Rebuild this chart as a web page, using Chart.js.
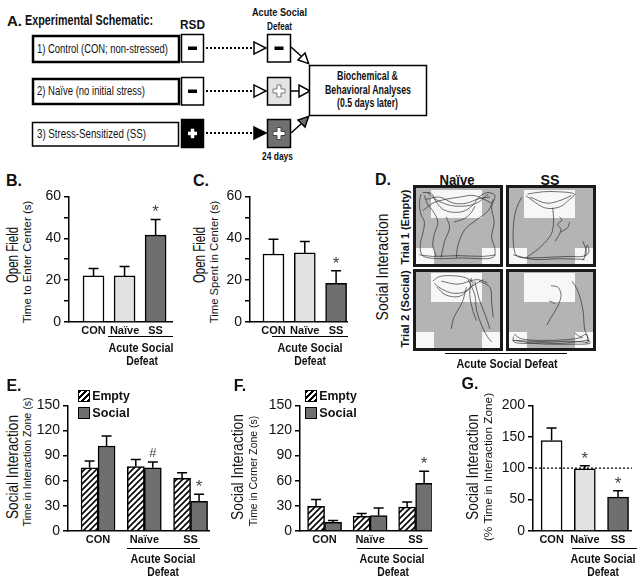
<!DOCTYPE html>
<html>
<head>
<meta charset="utf-8">
<script src="https://cdn.jsdelivr.net/npm/chart.js@4.4.1/dist/chart.umd.min.js"></script>
<style>
  body { margin: 0; background: #fff; }
  #fig { position: relative; width: 644px; height: 583px; overflow: hidden;
         font-family: "Liberation Sans", Arial, sans-serif; color: #111; }
  .t { position: absolute; white-space: nowrap; line-height: 1; transform: translate(-50%, -50%); }
  .r { transform: translate(-50%, -50%) rotate(-90deg); }
  .lbl { font-weight: bold; font-size: 16px; }
  .yt { font-size: 16px; }
  .ys { font-size: 11px; }
  .yb { font-size: 11px; font-weight: bold; }
  .xs { font-size: 12px; font-weight: bold; }
  .hl { position: absolute; height: 0; border-top: 1.5px solid #000; }
  canvas.ch { position: absolute; }
  .arena { position: absolute; width: 84px; height: 76px; border: 3px solid #1a1a1a; background: #b4b4b4; }
  .arena canvas { position: absolute; left: 0; top: 0; }
  .zone { position: absolute; background: #f7f7f7; }
  .zt1 { left: 18%; width: 61%; top: 3%; height: 37%; }
  .zt2 { left: 18%; width: 61%; top: 1%; height: 38%; }
  .zbl { left: 0; bottom: 0; width: 21%; height: 21%; }
  .zbr { right: 0; bottom: 0; width: 21%; height: 21%; }
  .sw { position: absolute; width: 10px; height: 10px; border: 1.5px solid #000; }
  .hatch { background: repeating-linear-gradient(-45deg, #000 0 1.6px, #fff 1.6px 4.2px); }
</style>
</head>
<body>
<div id="fig">

  <!-- A. Schema -->
  <svg width="644" height="170" style="position:absolute;left:0;top:0"
       font-family="Liberation Sans, Arial, sans-serif" fill="#111">
    <text x="7" y="26" font-weight="bold" font-size="15">A.</text>
    <text x="25" y="25" font-size="14" font-weight="bold" textLength="128" lengthAdjust="spacingAndGlyphs">Experimental Schematic:</text>
    <text x="180" y="29" font-size="13" font-weight="bold" textLength="25" lengthAdjust="spacingAndGlyphs">RSD</text>
    <text x="252" y="16" font-size="11" font-weight="bold" textLength="55" lengthAdjust="spacingAndGlyphs">Acute Social</text>
    <text x="267" y="30" font-size="11" font-weight="bold" textLength="25" lengthAdjust="spacingAndGlyphs">Defeat</text>

    <rect x="33" y="36" width="146" height="26" fill="#fff" stroke="#000" stroke-width="2.5"/>
    <rect x="33" y="79" width="146" height="25" fill="#fff" stroke="#000" stroke-width="2.5"/>
    <rect x="32.5" y="122.5" width="146" height="23.5" fill="#fff" stroke="#000" stroke-width="1.5"/>
    <text x="37" y="53" font-size="12" textLength="131" lengthAdjust="spacingAndGlyphs">1) Control  (CON;  non-stressed)</text>
    <text x="37" y="95" font-size="12" textLength="108" lengthAdjust="spacingAndGlyphs">2) Naïve  (no  initial stress)</text>
    <text x="37" y="138" font-size="12" textLength="109" lengthAdjust="spacingAndGlyphs">3) Stress-Sensitized  (SS)</text>

    <rect x="181.5" y="34.5" width="22" height="27.5" fill="#fff" stroke="#000" stroke-width="1.5"/>
    <rect x="188" y="46.5" width="9" height="3.5" fill="#000"/>
    <rect x="181.5" y="77.5" width="22" height="27.5" fill="#fff" stroke="#000" stroke-width="1.5"/>
    <rect x="188" y="89.5" width="9" height="3.5" fill="#000"/>
    <rect x="181.5" y="119.5" width="22" height="28" fill="#000" stroke="#000" stroke-width="1.5"/>
    <rect x="188" y="131.7" width="9" height="3.5" fill="#fff"/>
    <rect x="190.75" y="128.7" width="3.5" height="9.5" fill="#fff"/>

    <g stroke="#000" stroke-width="2" stroke-dasharray="2 2">
      <line x1="206" y1="48" x2="253" y2="48"/>
      <line x1="206" y1="91" x2="253" y2="91"/>
      <line x1="206" y1="133" x2="253" y2="133"/>
    </g>
    <polygon points="254,42 254,54 266,48" fill="#fff" stroke="#000" stroke-width="1.5"/>
    <polygon points="254,85 254,97 266,91" fill="#fff" stroke="#000" stroke-width="1.5"/>
    <polygon points="254,127 254,139 266,133" fill="#000" stroke="#000" stroke-width="1.5"/>

    <rect x="267.5" y="34.5" width="23" height="27.5" fill="#fff" stroke="#000" stroke-width="1.5"/>
    <rect x="274.5" y="46.5" width="9" height="3.5" fill="#000"/>
    <rect x="267.5" y="77.5" width="23" height="27.5" fill="#e4e4e4" stroke="#000" stroke-width="1.5"/>
    <path d="M277,85 h4 v4 h4 v4 h-4 v4 h-4 v-4 h-4 v-4 h4 z" fill="#fff" stroke="#777" stroke-width="1"/>
    <rect x="267.5" y="119.5" width="23" height="28" fill="#707070" stroke="#000" stroke-width="1.5"/>
    <path d="M277,127.5 h4 v4 h4 v4 h-4 v4 h-4 v-4 h-4 v-4 h4 z" fill="#fff" stroke="#444" stroke-width="1"/>

    <g stroke="#000" stroke-width="1.5">
      <line x1="291" y1="47" x2="301" y2="56"/>
      <line x1="291" y1="91" x2="299" y2="91"/>
      <line x1="291" y1="133" x2="301" y2="124"/>
    </g>
    <polygon points="305,53 298,60 308.6,63.6" fill="#fff" stroke="#000" stroke-width="1.5"/>
    <polygon points="299,85 299,97 310,91" fill="#fff" stroke="#000" stroke-width="1.5"/>
    <polygon points="305,127 298,120 308.6,116.4" fill="#707070" stroke="#000" stroke-width="1.5"/>

    <rect x="309.5" y="65.5" width="117" height="50" fill="#fff" stroke="#000" stroke-width="1.5"/>
    <text x="337" y="80" font-size="12" font-weight="bold" textLength="61" lengthAdjust="spacingAndGlyphs">Biochemical &amp;</text>
    <text x="325" y="94" font-size="12" font-weight="bold" textLength="86" lengthAdjust="spacingAndGlyphs">Behavioral Analyses</text>
    <text x="337" y="107" font-size="12" font-weight="bold" textLength="61" lengthAdjust="spacingAndGlyphs">(0.5 days later)</text>
    <text x="262" y="160" font-size="11" font-weight="bold" textLength="31" lengthAdjust="spacingAndGlyphs">24 days</text>
  </svg>

  <!-- B -->
  <div class="t lbl" style="left:14px;top:181px">B.</div>
  <div class="t r yt" data-w="56" style="left:13px;top:255px">Open Field</div>
  <div class="t r ys" data-w="123" style="left:27px;top:262px">Time to Enter Center (s)</div>
  <canvas id="chartB" class="ch" width="134" height="153" style="left:39px;top:185px"></canvas>
  <div class="hl" style="left:108px;top:336px;width:65px"></div>
  <div class="t xs" data-w="65" style="left:141px;top:348px">Acute Social</div>
  <div class="t xs" data-w="32" style="left:142px;top:361px">Defeat</div>

  <!-- C -->
  <div class="t lbl" style="left:201px;top:181px">C.</div>
  <div class="t r yt" data-w="56" style="left:200px;top:255px">Open Field</div>
  <div class="t r ys" data-w="122" style="left:214px;top:262px">Time Spent in Center (s)</div>
  <canvas id="chartC" class="ch" width="128" height="153" style="left:220px;top:185px"></canvas>
  <div class="hl" style="left:272px;top:336px;width:76px"></div>
  <div class="t xs" data-w="65" style="left:310px;top:348px">Acute Social</div>
  <div class="t xs" data-w="32" style="left:310px;top:361px">Defeat</div>

  <!-- D -->
  <div class="t lbl" style="left:383px;top:180px">D.</div>
  <div class="t" data-w="35" style="left:457px;top:179px;font-size:15px;font-weight:bold">Naïve</div>
  <div class="t" data-w="19" style="left:550px;top:179px;font-size:15px;font-weight:bold">SS</div>
  <div class="t r yt" data-w="107" style="left:383px;top:267px">Social Interaction</div>
  <div class="t r yb" data-w="75" style="left:405px;top:227px">Trial 1 (Empty)</div>
  <div class="t r yb" data-w="78" style="left:405px;top:309px">Trial 2 (Social)</div>
  <div class="arena" style="left:413px;top:185px">
    <div class="zone zt1"></div><div class="zone zbl"></div><div class="zone zbr"></div>
    <canvas id="trackN1" width="84" height="76"></canvas>
  </div>
  <div class="arena" style="left:506px;top:185px">
    <div class="zone zt1"></div><div class="zone zbl"></div><div class="zone zbr"></div>
    <canvas id="trackS1" width="84" height="76"></canvas>
  </div>
  <div class="arena" style="left:413px;top:269px">
    <div class="zone zt2"></div><div class="zone zbl"></div><div class="zone zbr"></div>
    <canvas id="trackN2" width="84" height="76"></canvas>
  </div>
  <div class="arena" style="left:506px;top:269px">
    <div class="zone zt2"></div><div class="zone zbl"></div><div class="zone zbr"></div>
    <canvas id="trackS2" width="84" height="76"></canvas>
  </div>
  <div class="hl" style="left:445px;top:353px;width:122px"></div>
  <div class="t xs" data-w="101" style="left:507px;top:364px">Acute Social Defeat</div>

  <!-- E -->
  <div class="t lbl" style="left:14px;top:386px">E.</div>
  <div class="t r yt" data-w="104" style="left:13px;top:467px">Social Interaction</div>
  <div class="t r ys" data-w="129" style="left:27px;top:462px">Time in Interaction Zone (s)</div>
  <div class="sw hatch" style="left:78px;top:390px"></div>
  <div class="t xs" data-w="38" style="left:111px;top:396px;">Empty</div>
  <div class="sw" style="left:78px;top:407px;background:#6f6f6f"></div>
  <div class="t xs" data-w="37" style="left:111px;top:413px;">Social</div>
  <canvas id="chartE" class="ch" width="176" height="153" style="left:34px;top:394px"></canvas>
  <div class="hl" style="left:127px;top:548px;width:73px"></div>
  <div class="t xs" data-w="65" style="left:163px;top:559px">Acute Social</div>
  <div class="t xs" data-w="32" style="left:163px;top:572px">Defeat</div>

  <!-- F -->
  <div class="t lbl" style="left:240px;top:386px">F.</div>
  <div class="t r yt" data-w="106" style="left:238px;top:467px">Social Interaction</div>
  <div class="t r ys" data-w="110" style="left:253px;top:471px">Time in Corner Zone (s)</div>
  <div class="sw hatch" style="left:305px;top:390px"></div>
  <div class="t xs" data-w="38" style="left:338px;top:396px;">Empty</div>
  <div class="sw" style="left:305px;top:407px;background:#6f6f6f"></div>
  <div class="t xs" data-w="37" style="left:338px;top:413px;">Social</div>
  <canvas id="chartF" class="ch" width="166" height="153" style="left:266px;top:394px"></canvas>
  <div class="hl" style="left:357px;top:548px;width:71px"></div>
  <div class="t xs" data-w="65" style="left:392px;top:559px">Acute Social</div>
  <div class="t xs" data-w="32" style="left:393px;top:572px">Defeat</div>

  <!-- G -->
  <div class="t lbl" style="left:470px;top:384px">G.</div>
  <div class="t r yt" data-w="106" style="left:473px;top:467px">Social Interaction</div>
  <div class="t r ys" data-w="148" style="left:488px;top:467px">(% Time in Interaction Zone)</div>
  <canvas id="chartG" class="ch" width="133" height="153" style="left:499px;top:394px"></canvas>
  <div class="hl" style="left:572px;top:548px;width:65px"></div>
  <div class="t xs" data-w="65" style="left:603px;top:559px">Acute Social</div>
  <div class="t xs" data-w="32" style="left:603px;top:572px">Defeat</div>
</div>

<script>
  // ---- Daten ----
  const groups = ['CON', 'Naïve', 'SS'];
  const groupColors = ['#ffffff', '#e2e2e2', '#6f6f6f'];
  const socialColor = '#6f6f6f';

  // B: Open Field, Zeit bis Zentrum (s)
  const latencyMean = [22, 22, 41.5];
  const latencySem = [3.5, 4.5, 7.5];
  const latencySig = ['', '', '*'];

  // C: Open Field, Zeit im Zentrum (s)
  const centerMean = [32.5, 33, 18.5];
  const centerSem = [7, 5.5, 6];
  const centerSig = ['', '', '*'];

  // E: Zeit in Interaktionszone (s)
  const izEmptyMean = [75.5, 77, 63];
  const izEmptySem = [8, 8.5, 6.5];
  const izSocialMean = [101.5, 75.5, 35.5];
  const izSocialSem = [12, 7, 8.5];
  const izSocialSig = ['', '#', '*'];

  // F: Zeit in Eckzone (s)
  const czEmptyMean = [29.5, 17.5, 28.5];
  const czEmptySem = [8, 3.5, 6];
  const czSocialMean = [10.5, 18.5, 57];
  const czSocialSem = [2, 9, 14.5];
  const czSocialSig = ['', '', '*'];

  // G: % Zeit in Interaktionszone
  const izRatioMean = [144, 99, 54];
  const izRatioSem = [20, 5, 10];
  const izRatioSig = ['', '*', '*'];
  const izRatioRef = 100;

  // D: grobe Laufwege (Arena 0-100, y nach oben)
  const naiveTrial1 = [
    [[6,92],[4,80],[6,65],[10,55],[8,40],[5,25],[7,12],[15,8],[35,7],[55,8],[75,7],[92,9],[94,20],[90,35],[93,55],[90,75],[94,90],[85,94],[75,88],[68,78],[58,70],[45,68],[32,72],[24,82],[18,93],[8,94]],
    [[10,90],[14,78],[20,70],[26,55],[22,40],[20,25],[24,10]],
    [[48,8],[50,25],[58,45],[72,58],[86,70],[92,85]],
    [[12,85],[28,88],[45,80],[60,80],[75,86],[88,88]],
    [[45,55],[58,60],[66,68],[70,76]],
    [[8,70],[20,80],[35,85],[52,88],[70,90],[90,80]],
    [[14,94],[22,86],[38,78],[55,76],[72,80],[86,92]],
    [[4,12],[20,10],[50,11],[80,10],[95,12]],
    [[30,9],[34,30],[40,48],[36,62]]
  ];
  const ssTrial1 = [
    [[20,90],[30,82],[40,75],[50,73],[62,76],[72,85],[78,92],[60,95],[40,95],[22,92]],
    [[15,88],[8,70],[5,45],[6,20],[10,10],[25,8],[50,9],[72,10],[88,10],[95,15],[93,25],[90,10]],
    [[20,8],[35,20],[48,35],[52,45],[53,60],[52,74]],
    [[55,30],[62,45],[58,52],[63,58],[60,62]],
    [[62,42],[70,48],[72,55]],
    [[88,5],[92,15],[88,30]],
    [[5,12],[30,6],[60,7],[90,6]],
    [[25,88],[45,80],[62,84],[74,90]]
  ];
  const naiveTrial2 = [
    [[22,85],[30,78],[45,72],[60,75],[68,85],[60,92],[45,95],[28,94],[20,88]],
    [[25,80],[35,70],[52,68],[65,80],[80,90]],
    [[62,90],[70,70],[72,50],[78,30],[85,15],[90,8]],
    [[70,88],[75,65],[82,45],[88,25]],
    [[60,80],[55,60],[45,40],[42,25]],
    [[75,88],[88,80],[90,60],[92,40]],
    [[30,88],[50,84],[72,90],[85,86]],
    [[66,92],[64,70],[68,48],[72,36]]
  ];
  const ssTrial2 = [
    [[50,82],[58,80],[62,70],[58,55],[50,40],[45,30]],
    [[75,88],[82,75],[88,50],[90,25],[94,12],[92,6]],
    [[5,15],[6,8],[20,6],[40,7],[60,6],[80,8],[95,10],[96,6],[78,5],[55,5],[30,6],[8,10]],
    [[48,62],[52,60],[55,58]],
    [[78,20],[85,15],[92,18],[95,8]],
    [[6,18],[15,12],[40,10],[70,11],[88,14]],
    [[4,10],[25,9],[50,8],[75,9],[94,7]]
  ];

  // Texte schmal ziehen (Original ist in einer Narrow-Schrift gesetzt)
  document.querySelectorAll('[data-w]').forEach(el => {
    const s = +el.dataset.w / el.offsetWidth;
    const base = el.classList.contains('r') ? 'translate(-50%, -50%) rotate(-90deg)' : 'translate(-50%, -50%)';
    el.style.transform = base + ' scaleX(' + s.toFixed(3) + ')';
  });

  Chart.defaults.font.family = '"Liberation Sans", Arial, sans-serif';
  Chart.defaults.color = '#111';
  Chart.defaults.animation = false;

  // Schraffur für "Empty"
  function hatchPattern() {
    const c = document.createElement('canvas');
    c.width = c.height = 6;
    const g = c.getContext('2d');
    g.fillStyle = '#fff';
    g.fillRect(0, 0, 6, 6);
    g.strokeStyle = '#000';
    g.lineWidth = 1.6;
    g.beginPath();
    g.moveTo(0, 6); g.lineTo(6, 0);
    g.moveTo(-3, 3); g.lineTo(3, -3);
    g.moveTo(3, 9); g.lineTo(9, 3);
    g.stroke();
    return g.createPattern(c, 'repeat');
  }

  // Fehlerbalken (nur nach oben) + Signifikanzzeichen
  const errorBars = {
    id: 'errorBars',
    afterDatasetsDraw(chart) {
      const { ctx, scales: { y } } = chart;
      chart.data.datasets.forEach((ds, i) => {
        if (!ds.sem) return;
        chart.getDatasetMeta(i).data.forEach((bar, j) => {
          const top = y.getPixelForValue(ds.data[j].y + ds.sem[j]);
          const cap = Math.min(5, bar.width / 2 - 3);
          ctx.save();
          ctx.strokeStyle = '#000';
          ctx.lineWidth = 1.5;
          ctx.beginPath();
          ctx.moveTo(bar.x, bar.y);
          ctx.lineTo(bar.x, top);
          ctx.moveTo(bar.x - cap, top);
          ctx.lineTo(bar.x + cap, top);
          ctx.stroke();
          const mark = ds.sig && ds.sig[j];
          if (mark) {
            ctx.fillStyle = '#444';
            ctx.textAlign = 'center';
            ctx.textBaseline = 'alphabetic';
            ctx.font = mark === '#' ? '13px "Liberation Sans", Arial' : '17px "Liberation Sans", Arial';
            ctx.fillText(mark, bar.x, mark === '#' ? top - 5 : top - 2);
          }
          ctx.restore();
        });
      });
    }
  };

  // gestrichelte Referenzlinie
  const refLine = {
    id: 'refLine',
    afterDatasetsDraw(chart, args, opts) {
      if (opts.value == null) return;
      const { ctx, chartArea, scales: { y } } = chart;
      const py = y.getPixelForValue(opts.value);
      ctx.save();
      ctx.setLineDash([2, 2]);
      ctx.lineWidth = 1.3;
      ctx.strokeStyle = '#000';
      ctx.beginPath();
      ctx.moveTo(chartArea.left + 2, py);
      ctx.lineTo(chartArea.right, py);
      ctx.stroke();
      ctx.restore();
    }
  };

  function dataset(label, means, sems, colors, sig) {
    return {
      label,
      data: means.map((v, i) => ({ x: i + 1, y: v })),
      sem: sems,
      sig: sig || [],
      backgroundColor: colors,
      borderColor: '#000',
      borderWidth: 1.5
    };
  }

  function barChart(id, datasets, o) {
    return new Chart(document.getElementById(id), {
      type: 'bar',
      data: { datasets },
      plugins: [errorBars, refLine],
      options: {
        responsive: false,
        events: [],
        layout: { padding: { top: 10, right: 0, left: 0, bottom: 0 } },
        datasets: { bar: { barThickness: o.bar } },
        plugins: {
          legend: { display: false },
          tooltip: { enabled: false },
          refLine: { value: o.ref }
        },
        scales: {
          x: {
            type: 'linear', min: o.xMin, max: o.xMax, offset: false,
            grid: { display: false, drawTicks: false, offset: false },
            border: { display: true, color: '#000', width: 1.5 },
            afterBuildTicks: s => { s.ticks = groups.map((g, i) => ({ value: i + 1 })); },
            ticks: {
              autoSkip: false, maxRotation: 0, padding: 2, color: '#111',
              font: { size: 11, weight: 'bold' },
              callback: v => groups[v - 1] || ''
            },
            afterFit: s => { s.height = 16; }
          },
          y: {
            min: 0, max: o.yMax,
            grid: { display: true, drawOnChartArea: false, drawTicks: true, tickLength: 5, color: '#000', lineWidth: 1.5 },
            border: { display: true, color: '#000', width: 1.5 },
            ticks: {
              stepSize: o.yStep, padding: 3, color: '#111', font: { size: 14 },
              callback: v => v % o.yLabel === 0 ? v : ''
            },
            afterFit: s => { s.width = o.yW; }
          }
        }
      }
    });
  }

  const hatch = hatchPattern();

  barChart('chartB', [dataset('B', latencyMean, latencySem, groupColors, latencySig)],
    { xMin: 0.21, xMax: 3.56, yMax: 60, yStep: 10, yLabel: 20, yW: 30, bar: 21 });

  barChart('chartC', [dataset('C', centerMean, centerSem, groupColors, centerSig)],
    { xMin: 0.25, xMax: 3.38, yMax: 60, yStep: 10, yLabel: 20, yW: 30, bar: 21 });

  barChart('chartE', [
      dataset('Empty', izEmptyMean, izEmptySem, hatch),
      dataset('Social', izSocialMean, izSocialSem, socialColor, izSocialSig)
    ], { xMin: 0.35, xMax: 3.42, yMax: 150, yStep: 30, yLabel: 30, yW: 34, bar: 17 });

  barChart('chartF', [
      dataset('Empty', czEmptyMean, czEmptySem, hatch),
      dataset('Social', czSocialMean, czSocialSem, socialColor, czSocialSig)
    ], { xMin: 0.46, xMax: 3.36, yMax: 150, yStep: 30, yLabel: 30, yW: 34, bar: 17 });

  barChart('chartG', [dataset('G', izRatioMean, izRatioSem, groupColors, izRatioSig)],
    { xMin: 0.44, xMax: 3.42, yMax: 200, yStep: 25, yLabel: 50, yW: 34, bar: 21, ref: izRatioRef });

  // Laufwege
  function trackChart(id, tracks) {
    new Chart(document.getElementById(id), {
      type: 'scatter',
      data: {
        datasets: tracks.map(t => ({
          data: t.map(([x, y]) => ({ x, y })),
          showLine: true,
          borderColor: 'rgba(35,35,35,0.8)',
          borderWidth: 0.8,
          pointRadius: 0,
          tension: 0.35
        }))
      },
      options: {
        responsive: false,
        events: [],
        layout: { padding: 0 },
        plugins: { legend: { display: false }, tooltip: { enabled: false } },
        scales: {
          x: { display: false, min: 0, max: 100 },
          y: { display: false, min: 0, max: 100 }
        }
      }
    });
  }

  trackChart('trackN1', naiveTrial1);
  trackChart('trackS1', ssTrial1);
  trackChart('trackN2', naiveTrial2);
  trackChart('trackS2', ssTrial2);
</script>
</body>
</html>
